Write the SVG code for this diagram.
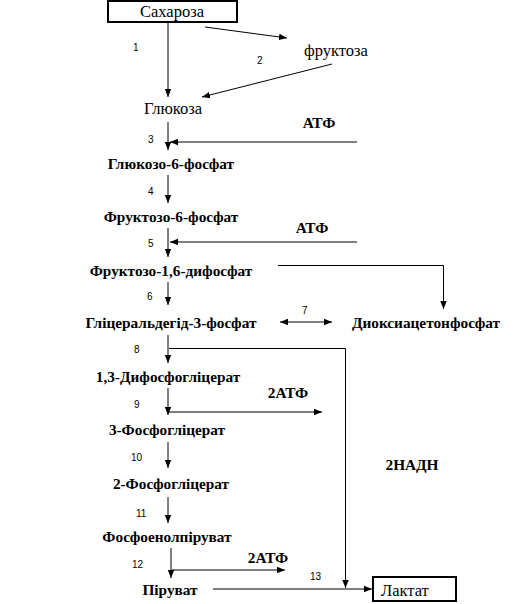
<svg xmlns="http://www.w3.org/2000/svg" width="524" height="604" viewBox="0 0 524 604">
<style>
.n{font-family:"Liberation Serif","Times New Roman",serif;font-size:15.3px;font-weight:bold;fill:#000}
.r{font-family:"Liberation Serif","Times New Roman",serif;font-size:16.5px;fill:#000}
.k{font-family:"Liberation Sans",Arial,sans-serif;font-size:10px;fill:#000}
.c line,.c path{stroke:#000;stroke-width:1;fill:none}
.box{fill:#fff;stroke:#000;stroke-width:2}
</style>
<defs>
<marker id="a" viewBox="0 0 8 8" refX="8" refY="4" markerWidth="8" markerHeight="8" markerUnits="userSpaceOnUse" orient="auto-start-reverse"><path d="M0,0.8 L8,4 L0,7.2 z" fill="#000"/></marker>
</defs>
<g class="c" id="connectors">
<line x1="168" y1="22" x2="168" y2="97" marker-end="url(#a)"/>
<line x1="205" y1="27" x2="287" y2="38" marker-end="url(#a)"/>
<line x1="332" y1="64" x2="202" y2="97" marker-end="url(#a)"/>
<line x1="168" y1="122" x2="168" y2="150" marker-end="url(#a)"/>
<line x1="357" y1="142" x2="170" y2="142" marker-end="url(#a)"/>
<line x1="168" y1="175" x2="168" y2="203" marker-end="url(#a)"/>
<line x1="168" y1="228" x2="168" y2="257" marker-end="url(#a)"/>
<line x1="357" y1="242" x2="170" y2="242" marker-end="url(#a)"/>
<path d="M278,265.5 H443.5 V309" marker-end="url(#a)"/>
<line x1="168" y1="282" x2="168" y2="305" marker-end="url(#a)"/>
<line x1="280" y1="322" x2="332" y2="322" marker-start="url(#a)" marker-end="url(#a)"/>
<line x1="168" y1="335" x2="168" y2="363" marker-end="url(#a)"/>
<path d="M169,348.5 H345.5 V588" marker-end="url(#a)"/>
<line x1="168" y1="388" x2="168" y2="415" marker-end="url(#a)"/>
<line x1="169" y1="412" x2="322" y2="412" marker-end="url(#a)"/>
<line x1="168" y1="442" x2="168" y2="468" marker-end="url(#a)"/>
<line x1="168" y1="497" x2="168" y2="523" marker-end="url(#a)"/>
<line x1="171" y1="548" x2="171" y2="578" marker-end="url(#a)"/>
<line x1="172" y1="570" x2="285" y2="570" marker-end="url(#a)"/>
<line x1="213" y1="589" x2="372" y2="589" marker-end="url(#a)"/>
</g>
<g id="sucrose"><rect class="box" x="108" y="1" width="129" height="21"/><text class="r" x="172" y="17" text-anchor="middle">Сахароза</text></g>
<g id="fructose"><text class="r" x="336" y="56" text-anchor="middle">фруктоза</text></g>
<g id="glucose"><text class="r" x="173" y="114" text-anchor="middle">Глюкоза</text></g>
<g id="g6p"><text class="n" x="171" y="169" text-anchor="middle">Глюкозо-6-фосфат</text></g>
<g id="f6p"><text class="n" x="171" y="222" text-anchor="middle">Фруктозо-6-фосфат</text></g>
<g id="f16bp"><text class="n" x="171" y="276" text-anchor="middle">Фруктозо-1,6-дифосфат</text></g>
<g id="gap"><text class="n" x="171" y="328" text-anchor="middle">Гліцеральдегід-3-фосфат</text></g>
<g id="dhap"><text class="n" x="426" y="328" text-anchor="middle">Диоксиацетонфосфат</text></g>
<g id="bpg"><text class="n" x="168" y="382" text-anchor="middle">1,3-Дифосфогліцерат</text></g>
<g id="pg3"><text class="n" x="167" y="435" text-anchor="middle">3-Фосфогліцерат</text></g>
<g id="pg2"><text class="n" x="171" y="489" text-anchor="middle">2-Фосфогліцерат</text></g>
<g id="pep"><text class="n" x="167" y="542" text-anchor="middle">Фосфоенолпіруват</text></g>
<g id="pyruvate"><text class="n" x="170" y="595" text-anchor="middle">Піруват</text></g>
<g id="lactate"><rect class="box" x="373" y="577" width="83" height="24"/><text class="r" x="381" y="596">Лактат</text></g>
<g id="labels">
<text class="n" x="319" y="128" text-anchor="middle">АТФ</text>
<text class="n" x="312" y="233" text-anchor="middle">АТФ</text>
<text class="n" x="288" y="398" text-anchor="middle">2АТФ</text>
<text class="n" x="268" y="563" text-anchor="middle">2АТФ</text>
<text class="n" x="412" y="470" text-anchor="middle">2НАДН</text>
<text class="k" x="133" y="51">1</text>
<text class="k" x="257" y="64">2</text>
<text class="k" x="148" y="143">3</text>
<text class="k" x="148" y="195">4</text>
<text class="k" x="148" y="247">5</text>
<text class="k" x="147" y="300">6</text>
<text class="k" x="302" y="314">7</text>
<text class="k" x="134" y="353">8</text>
<text class="k" x="134" y="408">9</text>
<text class="k" x="131" y="461">10</text>
<text class="k" x="136" y="517">11</text>
<text class="k" x="132" y="568">12</text>
<text class="k" x="310" y="580">13</text>
</g>
</svg>
